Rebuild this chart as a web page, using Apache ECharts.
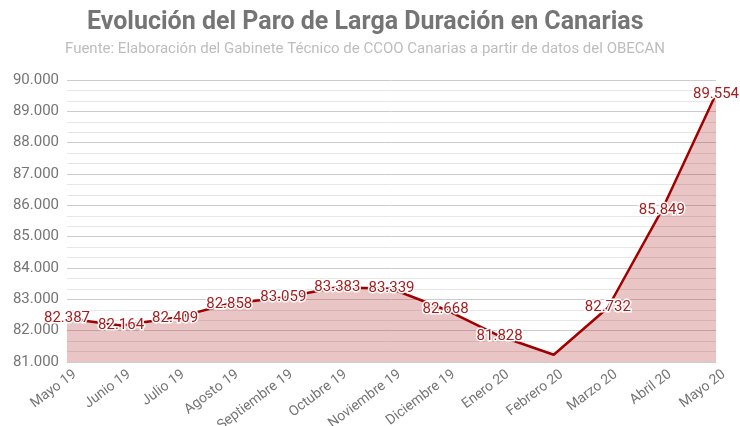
<!DOCTYPE html>
<html>
<head>
<meta charset="utf-8">
<script src="https://cdn.jsdelivr.net/npm/echarts@6/dist/echarts.min.js"></script>
<style>
	html, body { margin: 0; padding: 0; background: #fff; }
	#chart { width: 740px; height: 426px; }
</style>
</head>
<body>
<div id="chart"></div>
<script>
// ---------- DATA ----------
const months = ['Mayo 19', 'Junio 19', 'Julio 19', 'Agosto 19', 'Septiembre 19', 'Octubre 19',
	'Noviembre 19', 'Diciembre 19', 'Enero 20', 'Febrero 20', 'Marzo 20', 'Abril 20', 'Mayo 20'];
const paroValues = [82387, 82164, 82409, 82858, 83059, 83383, 83339, 82668, 81828, 81230, 82732, 85849, 89554];
// months whose value is printed on the chart
const labelledMonths = months.filter(m => m !== 'Febrero 20');

function fmt(v) {
	return String(v).replace(/\B(?=(\d{3})+(?!\d))/g, '.');
}

var paroChart = echarts.init(document.getElementById('chart'));

let paroChartOptions = {
	backgroundColor: '#fff',
	textStyle: { fontFamily: 'Roboto' },
	title: [
		{
			text: 'Evolución del Paro de Larga Duración en Canarias',
			left: 82,
			top: 5,
			textStyle: {
				fontFamily: 'Roboto',
				fontSize: 25,
				fontWeight: 'bold',
				color: '#757575'
			}
		},
		{
			text: 'Fuente: Elaboración del Gabinete Técnico de CCOO Canarias a partir de datos del OBECAN',
			left: 60,
			top: 37,
			textStyle: {
				fontFamily: 'Roboto',
				fontSize: 15,
				fontWeight: 'normal',
				color: '#bdbdbd'
			}
		}
	],
	grid: {
		left: 67,
		right: 24,
		top: 80,
		bottom: 64,
		containLabel: false,
		outerBoundsMode: 'none'
	},
	xAxis: {
		type: 'category',
		data: months,
		boundaryGap: false,
		axisLine: { lineStyle: { color: '#cccccc' } },
		axisTick: { show: false },
		axisLabel: {
			rotate: 37,
			interval: 0,
			color: '#757575',
			fontSize: 14,
			margin: 17,
			padding: [0, -10, 0, 0]
		}
	},
	yAxis: {
		type: 'value',
		min: 81000,
		max: 90000,
		interval: 1000,
		axisLine: { show: false },
		axisTick: { show: false },
		axisLabel: {
			color: '#757575',
			fontSize: 15,
			margin: 8,
			formatter: fmt
		},
		splitLine: { lineStyle: { color: '#cccccc', width: 1 } },
		minorTick: { show: false, splitNumber: 3 },
		minorSplitLine: { show: true, lineStyle: { color: '#e6e6e6', width: 1 } }
	},
	series: [
		{
			name: 'Paro de larga duración',
			type: 'line',
			data: paroValues,
			showSymbol: true,
			symbol: 'circle',
			symbolSize: 1,
			lineStyle: { color: '#a00000', width: 2.5 },
			itemStyle: { color: 'transparent' },
			areaStyle: { color: 'rgba(170, 30, 30, 0.37)' },
			label: {
				show: true,
				position: 'inside',
				color: '#a51d1d',
				fontSize: 15,
				textBorderColor: '#ffffff',
				textBorderWidth: 3,
				formatter: function (p) {
					return labelledMonths.includes(p.name) ? fmt(p.value) : '';
				}
			},
			labelLayout: { hideOverlap: false },
			z: 3
		}
	]
};

paroChart.setOption(paroChartOptions);
</script>
</body>
</html>
